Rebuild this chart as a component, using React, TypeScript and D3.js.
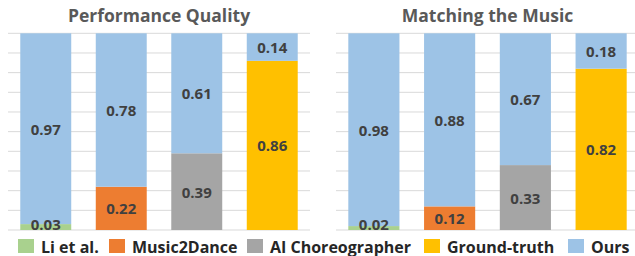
import React from "react";
import * as d3 from "d3";

const methods = ["Li et al.", "Music2Dance", "AI Choreographer", "Ground-truth"];
const legendNames = ["Li et al.", "Music2Dance", "AI Choreographer", "Ground-truth", "Ours"];
const colors = ["#A9D18E", "#ED7D31", "#A5A5A5", "#FFC000", "#9DC3E6"];

const qualityOthers = [0.03, 0.22, 0.39, 0.86];
const qualityOurs = [0.97, 0.78, 0.61, 0.14];
const musicOthers = [0.02, 0.12, 0.33, 0.82];
const musicOurs = [0.98, 0.88, 0.67, 0.18];

const panels = [
  { title: "Performance Quality", others: qualityOthers, ours: qualityOurs, x0: 8, x1: 310 },
  { title: "Matching the Music", others: musicOthers, ours: musicOurs, x0: 336, x1: 639 },
];

const FONT = "'Open Sans', 'Noto Sans', sans-serif";
const top = 33.3;
const bottom = 230;

type PanelProps = {
  title: string;
  others: number[];
  ours: number[];
  x0: number;
  x1: number;
};

function Panel({ title, others, ours, x0, x1 }: PanelProps) {
  const x = d3.scaleBand().domain(methods).range([x0, x1]).paddingInner(0.325).paddingOuter(0.1625);
  const y = d3.scaleLinear().domain([0, 1]).range([bottom, top]);
  const ticks = d3.range(0, 11).map((i) => i / 10);

  return (
    <g>
      <text
        x={(x0 + x1) / 2}
        y={21.5}
        textAnchor="middle"
        fontFamily={FONT}
        fontWeight={700}
        fontSize={17.5}
        fill="#595959"
      >
        {title}
      </text>
      {ticks.map((t) => (
        <line key={t} x1={x0} x2={x1} y1={y(t)} y2={y(t)} stroke="#D9D9D9" strokeWidth={1} />
      ))}
      {methods.map((m, i) => {
        const bx = x(m) ?? 0;
        const bw = x.bandwidth();
        const a = others[i];
        const b = ours[i];
        return (
          <g key={m}>
            <rect x={bx} y={y(a)} width={bw} height={y(0) - y(a)} fill={colors[i]} />
            <rect x={bx} y={y(a + b)} width={bw} height={y(a) - y(a + b)} fill={colors[4]} />
            <text
              x={bx + bw / 2}
              y={a < 0.05 ? y(0) - 6 : y(a / 2)}
              textAnchor="middle"
              dominantBaseline="central"
              fontFamily={FONT}
              fontWeight={700}
              fontSize={15}
              fill="#404040"
            >
              {a.toFixed(2)}
            </text>
            <text
              x={bx + bw / 2}
              y={y(a + b / 2)}
              textAnchor="middle"
              dominantBaseline="central"
              fontFamily={FONT}
              fontWeight={700}
              fontSize={15}
              fill="#404040"
            >
              {b.toFixed(2)}
            </text>
          </g>
        );
      })}
    </g>
  );
}

// legend swatch positions
const legendX = [18, 109, 247, 424, 568];

export default function App() {
  return (
    <svg
      width={635}
      height={256}
      style={{ position: "absolute", left: 0, top: 0, background: "#fff" }}
    >
      {panels.map((p) => (
        <Panel key={p.title} {...p} />
      ))}
      {legendNames.map((name, i) => (
        <g key={name} transform={`translate(${legendX[i]},239)`}>
          <rect width={16} height={14} fill={colors[i]} />
          <text
            x={23}
            y={7.5}
            dominantBaseline="central"
            fontFamily={FONT}
            fontWeight={700}
            fontSize={16}
            fill="#262626"
          >
            {name}
          </text>
        </g>
      ))}
    </svg>
  );
}
